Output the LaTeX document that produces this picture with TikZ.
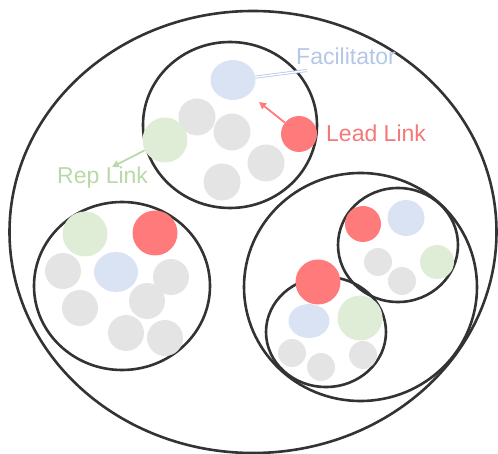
\documentclass[tikz,border=0pt]{standalone}
\usepackage{fontspec}
\setmainfont{Liberation Sans}
\usetikzlibrary{shapes.geometric,arrows.meta}
\definecolor{ringcol}{HTML}{333333}
\definecolor{memgray}{HTML}{E4E4E4}
\definecolor{leadred}{HTML}{FF7B7B}
\definecolor{facblue}{HTML}{DAE3F3}
\definecolor{repgreen}{HTML}{DFEDD6}
\definecolor{factext}{HTML}{B4C7E7}
\definecolor{leadtext}{HTML}{F47878}
\definecolor{reptext}{HTML}{B9D9A9}
\tikzset{
  ring/.style 2 args={ellipse, draw=ringcol, line width=2.6pt, minimum width=#1pt, minimum height=#2pt, inner sep=0pt},
  dot/.style 2 args={ellipse, inner sep=0pt, minimum width=#1pt, minimum height=#2pt},
  member/.style={dot={#1}{#1}, fill=memgray},
  lead/.style={dot={#1}{#1}, fill=leadred},
  rep/.style={dot={#1}{#1}, fill=repgreen},
  fac/.style 2 args={dot={#1}{#2}, fill=facblue},
  label/.style={font=\fontsize{23}{27}\selectfont, inner sep=0pt},
}
\begin{document}
\begin{tikzpicture}[x=1pt, y=-1pt]
\useasboundingbox (0,0) rectangle (498,454);

% circles (outlines)
\node[ring={487}{442}] (org) at (253,232) {};
\node[ring={174}{166}] (topc) at (230,125) {};
\node[ring={176}{168}] (leftc) at (122,286) {};
\node[ring={233}{228}] (rightc) at (360.5,287) {};
\node[ring={120}{114}] (subA) at (398,245) {};
\node[ring={120}{110}] (subB) at (326,332) {};

% top circle roles
\node[fac={45}{40}] (topF) at (233,80) {};
\node[member=37] (t1) at (197,117) {};
\node[member=37] (t2) at (232,132) {};
\node[member=37] (t3) at (266,163) {};
\node[member=37] (t4) at (222,182) {};
\node[rep=45] (topR) at (165,140) {};
\node[lead=36] (topL) at (299,134) {};

% left circle roles
\node[rep=45] (leftR) at (85,234) {};
\node[lead=45] (leftL) at (155,233) {};
\node[fac={44}{40}] (leftF) at (116,272) {};
\node[member=36] (l1) at (63,271) {};
\node[member=36] (l2) at (171,277) {};
\node[member=36] (l3) at (80,308) {};
\node[member=36] (l4) at (147,301) {};
\node[member=36] (l5) at (126,333) {};
\node[member=36] (l6) at (165,338) {};

% upper sub-circle roles
\node[lead=36] (aL) at (363,224) {};
\node[fac={37}{36}] (aF) at (406,218) {};
\node[member=28] (a1) at (378,262) {};
\node[member=28] (a2) at (402,281) {};
\node[rep=34] (aR) at (437,262) {};

% lower sub-circle roles
\node[lead=45] (bL) at (318,282) {};
\node[fac={41}{34}] (bF) at (309,321) {};
\node[rep=45] (bR) at (360,318) {};
\node[member=28] (b1) at (292,353) {};
\node[member=28] (b2) at (321,367) {};
\node[member=28] (b3) at (363,355) {};

% labels
\node[label, text=factext, anchor=base west] (factxt) at (296,65) {Facilitator};
\node[label, text=leadtext, anchor=base west] (leadtxt) at (326,142) {Lead Link};
\node[label, text=reptext, anchor=base west] (reptxt) at (57,184) {Rep Link};

% connectors
\coordinate (facend) at (307,70.5);
\coordinate (leadtip) at (259,102);
\coordinate (reptip) at (112,167);
\draw[factext, line width=0.8pt, double=white, double distance=1.4pt] (topF) -- (facend);
\draw[leadred, line width=1.8pt, -{Triangle[length=7pt,width=7pt]}] (topL) -- (leadtip);
\draw[reptext, line width=1.8pt, -{Triangle[length=7pt,width=7pt]}] (topR) -- (reptip);
\end{tikzpicture}
\end{document}
